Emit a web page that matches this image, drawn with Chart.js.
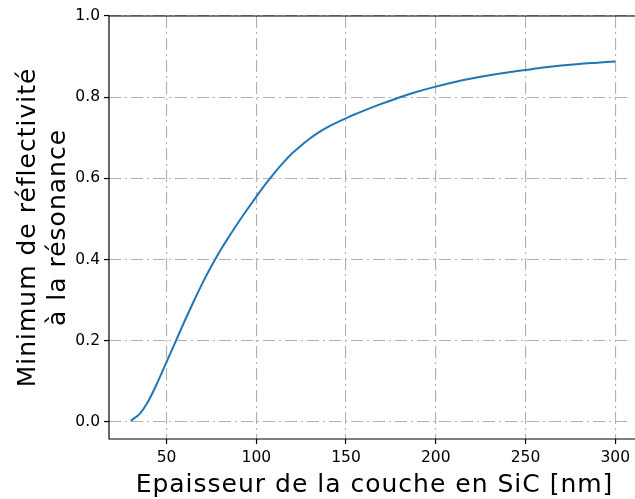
<!DOCTYPE html>
<html>
<head>
<meta charset="utf-8">
<script src="https://cdn.jsdelivr.net/npm/chart.js@4"></script>
<style>
  html, body { margin: 0; padding: 0; background: #fff; overflow: hidden; width: 635px; height: 499px; }
  canvas { display: block; }
</style>
</head>
<body>
<canvas id="c" width="635" height="499"></canvas>
<script>
// Data
const thickness = [30, 35, 40, 45, 50, 55, 60, 65, 70, 75, 80, 85, 90, 95, 100, 105, 110, 115, 120, 125, 130, 135, 140, 145, 150, 155, 160, 170, 180, 190, 200, 210, 220, 230, 240, 250, 260, 270, 280, 290, 300];
const minReflectivity = [0.003, 0.020, 0.053, 0.098, 0.148, 0.198, 0.248, 0.296, 0.342, 0.384, 0.423, 0.458, 0.492, 0.524, 0.555, 0.585, 0.613, 0.639, 0.662, 0.681, 0.699, 0.714, 0.727, 0.738, 0.748, 0.758, 0.767, 0.784, 0.800, 0.814, 0.826, 0.837, 0.846, 0.854, 0.861, 0.867, 0.873, 0.878, 0.882, 0.885, 0.888];
const xTicks = [50, 100, 150, 200, 250, 300];
const yTicks = [0.0, 0.2, 0.4, 0.6, 0.8, 1.0];
const xLabel = 'Epaisseur de la couche en SiC [nm]';
const yLabel = ['Minimum de réflectivité', 'à la résonance'];

const points = thickness.map((x, i) => ({ x: x, y: minReflectivity[i] }));

const FONT = '"DejaVu Sans", sans-serif';
const gridColor = '#b0b0b0';
const gridDash = [12, 4, 2, 4];

const frame = {
  id: 'frame',
  afterDraw(chart) {
    const { ctx, chartArea: a } = chart;
    ctx.save();
    // clear the right edge strip (the right spine lies outside the visible picture)
    ctx.fillStyle = '#fff';
    ctx.fillRect(a.right - 4, a.top + 1, 12, a.bottom - a.top - 2);
    // spines: left, bottom, top
    ctx.strokeStyle = '#000';
    ctx.lineWidth = 1.2;
    ctx.beginPath();
    ctx.moveTo(a.right + 2, a.top);
    ctx.lineTo(a.left, a.top);
    ctx.lineTo(a.left, a.bottom);
    ctx.lineTo(a.right + 2, a.bottom);
    ctx.stroke();
    // axis titles
    ctx.fillStyle = '#000';
    ctx.font = '25px "DejaVu Sans"';
    ctx.letterSpacing = '1px';
    ctx.textAlign = 'center';
    ctx.textBaseline = 'alphabetic';
    ctx.fillText(xLabel, (a.left + 640) / 2, chart.height - 7);
    ctx.translate(0, (a.top + a.bottom) / 2);
    ctx.rotate(-Math.PI / 2);
    ctx.fillText(yLabel[0], 0, 35);
    ctx.fillText(yLabel[1], 0, 64.5);
    ctx.restore();
  }
};

new Chart(document.getElementById('c'), {
  type: 'line',
  data: {
    datasets: [{
      data: points,
      borderColor: '#1f77b4',
      borderWidth: 2,
      pointRadius: 0,
      fill: false,
      cubicInterpolationMode: 'monotone'
    }]
  },
  options: {
    responsive: false,
    maintainAspectRatio: false,
    animation: false,
    devicePixelRatio: 1,
    layout: { padding: { left: 0, top: 16, right: 0, bottom: 0 } },
    plugins: { legend: { display: false }, tooltip: { enabled: false } },
    scales: {
      x: {
        type: 'linear',
        min: 17.9,
        max: 310.7,
        afterBuildTicks: (s) => { s.ticks = xTicks.map(v => ({ value: v })); },
        afterFit: (s) => { s.height = 60; },
        ticks: {
          color: '#000',
          font: { family: FONT, size: 15.5 },
          padding: 5,
          maxRotation: 0,
          callback: (v) => String(v)
        },
        grid: {
          color: gridColor,
          lineWidth: 1.1,
          tickColor: '#000',
          tickLength: 5,
          tickWidth: 1.2
        },
        border: { display: false, dash: gridDash }
      },
      y: {
        type: 'linear',
        min: -0.042,
        max: 1.0,
        afterBuildTicks: (s) => { s.ticks = yTicks.map(v => ({ value: v })); },
        afterFit: (s) => { s.width = 109; },
        ticks: {
          color: '#000',
          font: { family: FONT, size: 15.5 },
          padding: 4,
          callback: (v) => Number(v).toFixed(1)
        },
        grid: {
          color: gridColor,
          lineWidth: 1.1,
          tickColor: '#000',
          tickLength: 5,
          tickWidth: 1.2
        },
        border: { display: false, dash: gridDash }
      }
    }
  },
  plugins: [frame]
});
</script>
</body>
</html>
